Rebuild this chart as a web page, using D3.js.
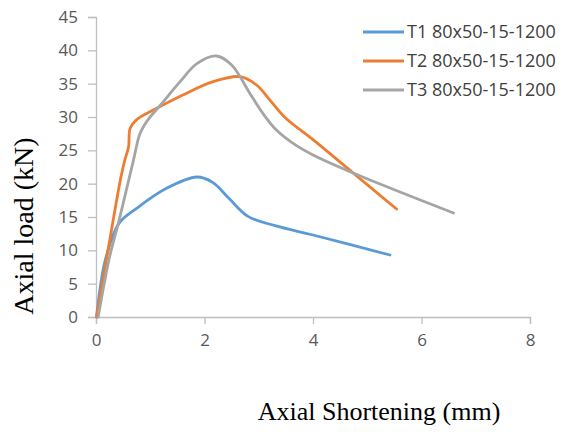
<!DOCTYPE html>
<html>
<head>
<meta charset="utf-8">
<script src="https://cdn.jsdelivr.net/npm/d3@7"></script>
<style>
html,body{margin:0;padding:0;background:#fff;}
svg{display:block;}
</style>
</head>
<body>
<svg id="chart" width="563" height="432"></svg>
<script>
const seriesNames = ["T1 80x50-15-1200", "T2 80x50-15-1200", "T3 80x50-15-1200"];
const seriesColors = ["#5B9BD5", "#ED7D31", "#A5A5A5"];
const t1 = [[0.01,0],[0.17,8.5],[0.42,14],[0.75,16.3],[1.3,19.3],[1.86,21],[2.15,20.2],[2.45,17.8],[2.8,15.1],[3.3,13.7],[4.0,12.3],[5.42,9.3]];
const t2 = [[0.01,0],[0.2,9],[0.38,17.5],[0.46,21],[0.53,23.5],[0.6,25.5],[0.63,28.3],[0.75,29.6],[1.12,31.3],[1.6,33.3],[2.16,35.3],[2.65,36.05],[2.96,34.8],[3.21,32.5],[3.5,29.8],[4.0,26.6],[4.74,21.6],[5.54,16.2]];
const t3 = [[0.04,0],[0.25,9],[0.41,14],[0.47,16],[0.69,23.5],[0.81,27.5],[0.95,29.5],[1.21,32],[1.55,35.3],[1.86,38],[2.22,39.15],[2.5,37.8],[2.84,33.5],[3.08,30.5],[3.33,28],[3.64,26],[4.0,24.3],[4.74,21.6],[6.59,15.6]];
const seriesData = [t1, t2, t3];
const xTicks = [0, 2, 4, 6, 8];
const yTicks = [0, 5, 10, 15, 20, 25, 30, 35, 40, 45];

const svg = d3.select("#chart");
const x = d3.scaleLinear().domain([0, 8]).range([96, 530]);
const y = d3.scaleLinear().domain([0, 45]).range([317, 17]);

const axisColor = "#BFBFBF";
const textColor = "#595959";

// y axis
const ya = svg.append("g").attr("transform", "translate(96,0)")
  .call(d3.axisLeft(y).tickValues(yTicks).tickSize(8).tickPadding(10).tickFormat(d3.format("d")));
ya.select(".domain").attr("stroke", axisColor).attr("stroke-width", 1.3);
ya.selectAll(".tick line").attr("stroke", axisColor).attr("stroke-width", 1.3);
ya.selectAll(".tick text").attr("fill", textColor).style("font-family", "'Open Sans', sans-serif").style("font-size", "17px");

// x axis
const xa = svg.append("g").attr("transform", "translate(0,317)")
  .call(d3.axisBottom(x).tickValues(xTicks).tickSize(7).tickPadding(10).tickFormat(d3.format("d")));
xa.select(".domain").attr("stroke", axisColor).attr("stroke-width", 1.3);
xa.selectAll(".tick line").attr("stroke", axisColor).attr("stroke-width", 1.3);
xa.selectAll(".tick text").attr("fill", textColor).style("font-family", "'Open Sans', sans-serif").style("font-size", "17px");

// lines
const line = d3.line().x(d => x(d[0])).y(d => y(d[1])).curve(d3.curveCatmullRom.alpha(0.5));
seriesData.forEach((s, i) => {
  svg.append("path").datum(s).attr("d", line)
    .attr("fill", "none").attr("stroke", seriesColors[i]).attr("stroke-width", 2.8)
    .attr("stroke-linejoin", "round").attr("stroke-linecap", "round");
});

// legend
const lg = svg.append("g");
seriesNames.forEach((n, i) => {
  const yy = 32 + i * 29;
  lg.append("line").attr("x1", 363).attr("x2", 404).attr("y1", yy).attr("y2", yy)
    .attr("stroke", seriesColors[i]).attr("stroke-width", 2.8);
  lg.append("text").attr("x", 407).attr("y", yy).attr("dy", "0.35em")
    .attr("fill", "#404040").style("font-family", "'Open Sans', sans-serif").style("font-size", "18px")
    .text(n);
});

// axis titles
svg.append("text").attr("transform", "translate(33,226) rotate(-90)").attr("text-anchor", "middle")
  .style("font-family", "'Liberation Serif', 'Times New Roman', serif").style("font-size", "28px").attr("fill", "#000")
  .text("Axial load (kN)");
svg.append("text").attr("x", 379).attr("y", 420).attr("text-anchor", "middle")
  .style("font-family", "'Liberation Serif', 'Times New Roman', serif").style("font-size", "26px").attr("fill", "#000")
  .text("Axial Shortening (mm)");
</script>
</body>
</html>
